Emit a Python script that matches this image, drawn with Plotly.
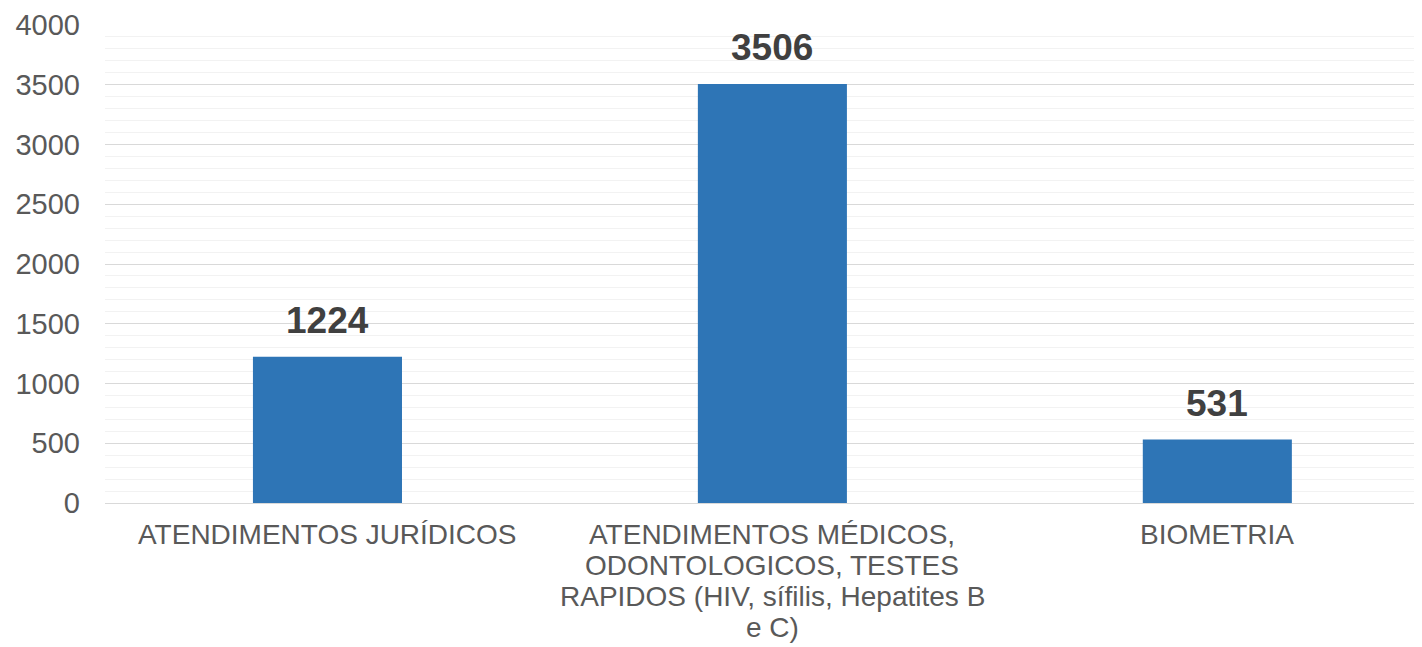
"""Bar chart of services provided (atendimentos)."""

import plotly.graph_objects as go

categories = [
    "ATENDIMENTOS JURÍDICOS",
    "ATENDIMENTOS MÉDICOS,<br>ODONTOLOGICOS, TESTES<br>RAPIDOS (HIV, sífilis, Hepatites B<br>e C)",
    "BIOMETRIA",
]
values = [1224, 3506, 531]

BAR_COLOR = "#2E75B6"
TICK_COLOR = "#595959"
LABEL_COLOR = "#404040"
FONT = "Liberation Sans, Arial, sans-serif"
LINE_PITCH = 31  # category labels use tighter line spacing than plotly ticks

fig = go.Figure()

fig.add_trace(
    go.Bar(
        x=list(range(len(categories))),
        y=values,
        width=0.335,
        marker=dict(color=BAR_COLOR, line=dict(width=0)),
        hoverinfo="skip",
    )
)

# Data labels above bars
for i, v in enumerate(values):
    fig.add_annotation(
        x=i,
        y=v,
        text=f"<b>{v}</b>",
        showarrow=False,
        yanchor="bottom",
        yshift=14,
        font=dict(size=37, color=LABEL_COLOR, family=FONT),
    )

# Category labels, one annotation per line
for i, cat in enumerate(categories):
    for j, line in enumerate(cat.split("<br>")):
        fig.add_annotation(
            x=i,
            xref="x",
            y=0,
            yref="paper",
            text=line,
            showarrow=False,
            yanchor="top",
            yshift=-14 - j * LINE_PITCH,
            font=dict(size=28, color=TICK_COLOR, family=FONT),
        )

# Page body adds an 8px offset, so the figure is sized to fill the rest
fig.update_layout(
    width=1414,
    height=639,
    margin=dict(l=97, r=0, t=17, b=144),
    paper_bgcolor="white",
    plot_bgcolor="white",
    showlegend=False,
    font=dict(family=FONT, color=TICK_COLOR, size=28),
)

fig.update_xaxes(
    range=[-0.5, 2.46],
    tickvals=list(range(len(categories))),
    showticklabels=False,
    showgrid=False,
    showline=False,
    ticks="",
    automargin=False,
)

fig.update_yaxes(
    range=[0, 4000],
    dtick=500,
    showgrid=True,
    gridcolor="#d9d9d9",
    gridwidth=1,
    zeroline=True,
    zerolinecolor="#d9d9d9",
    zerolinewidth=1,
    minor=dict(dtick=100, showgrid=True, gridcolor="#f2f2f2", gridwidth=1),
    ticks="",
    tickfont=dict(size=29, color=TICK_COLOR),
    ticklabelstandoff=24,
    automargin=False,
)

fig.write_html("out.html")
